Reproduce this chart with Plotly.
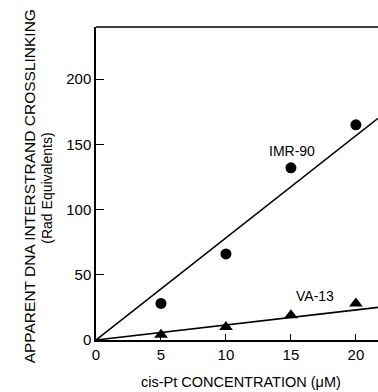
import plotly.graph_objects as go

# data
conc = [5, 10, 15, 20]
imr90 = [28, 66, 132, 165]
va13 = [4, 10, 19, 28]
fit_x = [0, 21.7]
imr90_fit = [0, 170]
va13_fit = [0, 25]
x_ticks = [0, 5, 10, 15, 20]
y_ticks = [0, 50, 100, 150, 200]

FONT = "Liberation Sans, Arial, sans-serif"

fig = go.Figure()
fig.add_trace(go.Scatter(x=fit_x, y=imr90_fit, mode="lines",
                         line=dict(color="black", width=1.6), hoverinfo="skip"))
fig.add_trace(go.Scatter(x=fit_x, y=va13_fit, mode="lines",
                         line=dict(color="black", width=1.6), hoverinfo="skip"))
fig.add_trace(go.Scatter(x=conc, y=imr90, mode="markers",
                         marker=dict(symbol="circle", size=11, color="black")))
fig.add_trace(go.Scatter(x=conc, y=va13, mode="markers",
                         marker=dict(symbol="triangle-up", size=12, color="black")))

fig.add_annotation(x=15.1, y=145, text="IMR-90", showarrow=False,
                   font=dict(family=FONT, size=14, color="black"))
fig.add_annotation(x=16.85, y=34, text="VA-13", showarrow=False,
                   font=dict(family=FONT, size=14, color="black"))

# axis titles
fig.add_annotation(xref="paper", yref="paper", x=-0.235, y=0.49, xanchor="center", yanchor="middle",
                   text="APPARENT DNA INTERSTRAND CROSSLINKING", textangle=-90, showarrow=False,
                   font=dict(family=FONT, size=15.5, color="black"))
fig.add_annotation(xref="paper", yref="paper", x=-0.172, y=0.485, xanchor="center", yanchor="middle",
                   text="(Rad Equivalents)", textangle=-90, showarrow=False,
                   font=dict(family=FONT, size=14, color="black"))
fig.add_annotation(xref="paper", yref="paper", x=0.514, y=-0.134, xanchor="center", yanchor="middle",
                   text="cis-Pt CONCENTRATION (\u03bcM)", showarrow=False,
                   font=dict(family=FONT, size=14.5, color="black"))

# top frame line
fig.add_shape(type="line", xref="paper", yref="paper", x0=0, x1=1, y0=1, y1=1,
              line=dict(color="black", width=1.5))

fig.update_layout(
    width=378, height=392,
    margin=dict(l=96, r=0, t=27, b=52, autoexpand=False),
    paper_bgcolor="white", plot_bgcolor="white",
    showlegend=False,
    font=dict(family=FONT, color="black"),
)
fig.update_xaxes(range=[0, 21.7], tickvals=x_ticks, ticks="inside", ticklen=6,
                 tickcolor="black", tickwidth=1.3, showline=True, linecolor="black",
                 linewidth=1.5, showgrid=False, zeroline=False,
                 tickfont=dict(family=FONT, size=15, color="black"))
fig.update_yaxes(range=[0, 240], tickvals=y_ticks, ticks="inside", ticklen=8,
                 tickcolor="black", tickwidth=1.3, showline=True, linecolor="black",
                 linewidth=1.5, showgrid=False, zeroline=False,
                 tickfont=dict(family=FONT, size=15, color="black"))

fig.write_html("out.html", config={"displayModeBar": False},
               post_script="document.body.style.margin='0';document.body.style.overflow='hidden';")
